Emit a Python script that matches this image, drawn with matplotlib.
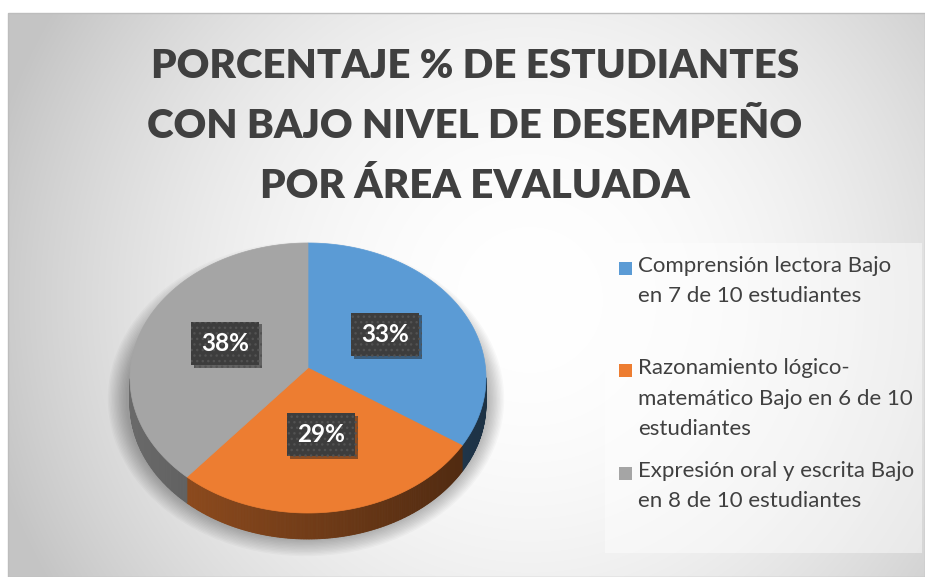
import numpy as np
import matplotlib.pyplot as plt
from matplotlib.patches import Polygon, Rectangle, Ellipse
import matplotlib.patheffects as pe

# ================== DATA ==================
TITLE_LINES = [
    "PORCENTAJE % DE ESTUDIANTES",
    "CON BAJO NIVEL DE DESEMPEÑO",
    "POR ÁREA EVALUADA",
]
labels = [
    "Comprensión lectora Bajo\nen 7 de 10 estudiantes",
    "Razonamiento lógico-\nmatemático Bajo en 6 de 10\nestudiantes",
    "Expresión oral y escrita Bajo\nen 8 de 10 estudiantes",
]
students_low = [7, 6, 8]  # out of 10 students
colors = ["#5b9bd5", "#ed7d31", "#a5a5a5"]

# ================== LAYOUT (pixels) ==================
W, H = 925, 577
FONT = "Lato"
TEXT_DARK = "#404040"

CX, CY = 308, 378        # centre of the top ellipse
APEX_Y = 368             # where the slices meet (perspective)
RX, RY = 178, 135        # ellipse radii
DEPTH = 26               # thickness of the pie

plt.rcParams["font.family"] = [FONT, "DejaVu Sans"]

fig = plt.figure(figsize=(W / 100, H / 100), dpi=100)
ax = fig.add_axes([0, 0, 1, 1])
ax.set_xlim(0, W)
ax.set_ylim(H, 0)
ax.axis("off")

# --- background: radial grey gradient ---
gx, gy = np.meshgrid(np.linspace(8, W, 460), np.linspace(13, H, 290))
d = np.hypot((gx - 530) / 560, (gy - 300) / 560)
t = np.clip(d, 0, 1) ** 2
g = 1 - t * 0.23
ax.imshow(np.dstack([g, g, g]), extent=(8, W, H, 13), origin="upper",
          aspect="auto", interpolation="bilinear", zorder=0)
ax.add_patch(Rectangle((8, 13), W - 8, H - 13, fill=False,
                       edgecolor="#bdbdbd", lw=1, zorder=1))

# --- soft shadow under the pie ---
for k in range(14):
    ax.add_patch(Ellipse((CX - 2, CY + DEPTH * 0.5 + 8),
                         2 * (RX + 2 + k * 1.4), 2 * (RY + 4 + k * 1.4),
                         facecolor="black", alpha=0.022, lw=0, zorder=2))

# --- slices (clockwise from 12 o'clock) ---
total = float(sum(students_low))
fracs = [v / total for v in students_low]
starts = 90 - 360 * np.concatenate([[0], np.cumsum(fracs)[:-1]])
ends = starts - 360 * np.array(fracs)


def darker(hexcol, f):
    c = np.array([int(hexcol[i:i + 2], 16) for i in (1, 3, 5)]) / 255.0
    return tuple(c * f)


# side walls (only the front half is visible)
for s, e, col in zip(starts, ends, colors):
    th = np.radians(np.linspace(s, e, 200))
    for t0, t1 in zip(th[:-1], th[1:]):
        if np.sin(0.5 * (t0 + t1)) >= 0:
            continue
        x0, x1 = CX + RX * np.cos(t0), CX + RX * np.cos(t1)
        y0, y1 = CY - RY * np.sin(t0), CY - RY * np.sin(t1)
        u = (0.5 * (x0 + x1) - (CX - RX)) / (2 * RX)
        shade = 0.64 - 0.32 * u
        ax.add_patch(Polygon([(x0, y0), (x1, y1), (x1, y1 + DEPTH),
                              (x0, y0 + DEPTH)], closed=True,
                             facecolor=darker(col, shade),
                             edgecolor=darker(col, shade), lw=0.6, zorder=3))

# top faces
for s, e, col in zip(starts, ends, colors):
    th = np.radians(np.linspace(s, e, 200))
    pts = [(CX, APEX_Y)] + list(zip(CX + RX * np.cos(th), CY - RY * np.sin(th)))
    ax.add_patch(Polygon(pts, closed=True, facecolor=col, edgecolor=col,
                         lw=0.5, zorder=4))

# data labels
for s, e, f in zip(starts, ends, fracs):
    mid = np.radians(0.5 * (s + e))
    lx = CX + 0.5 * RX * np.cos(mid)
    ly = APEX_Y - 0.5 * RY * np.sin(mid)
    txt = ax.text(lx, ly, f"{f * 100:.0f}%", ha="center", va="center",
                  fontsize=17.5, fontweight="bold", color="white", zorder=6,
                  bbox=dict(boxstyle="square,pad=0.42", facecolor="#3d3d3d",
                            edgecolor="#525252", lw=0, hatch="..."))
    txt.get_bbox_patch().set_path_effects(
        [pe.SimplePatchShadow(offset=(2, -2), alpha=0.45), pe.Normal()])

# --- title ---
for i, line in enumerate(TITLE_LINES):
    ax.text(475, 66 + 60 * i, line, ha="center", va="center", fontsize=29,
            fontweight="heavy", color=TEXT_DARK, zorder=6)

# --- legend ---
ax.add_patch(Rectangle((605, 243), 317, 310, facecolor="white", alpha=0.45,
                       lw=0, zorder=2))
LEG_Y0, LEG_PITCH = 268, 102.5
for i, (lab, col) in enumerate(zip(labels, colors)):
    yc = LEG_Y0 + LEG_PITCH * i
    ax.add_patch(Rectangle((619, yc - 6.5), 13, 13, facecolor=col, lw=0,
                           zorder=5))
    ax.text(638, yc - 12, lab, ha="left", va="top", fontsize=16,
            color=TEXT_DARK, linespacing=1.65, zorder=6)

fig.savefig("out.png", dpi=100)
